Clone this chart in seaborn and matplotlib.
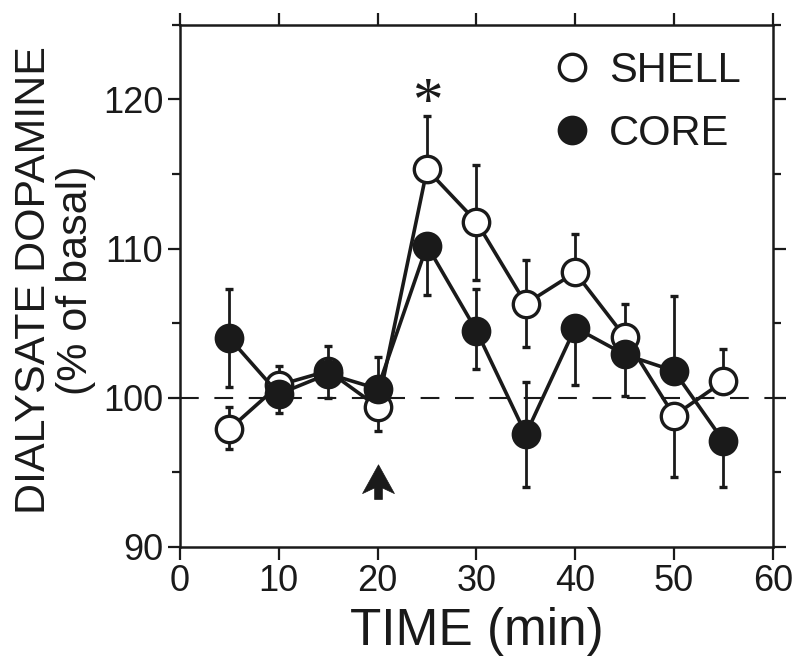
import matplotlib
matplotlib.use('Agg')
import matplotlib.pyplot as plt
from matplotlib.lines import Line2D
from matplotlib.path import Path
from matplotlib.ticker import MultipleLocator
import seaborn as sns

# time after start (min)
time = [5, 10, 15, 20, 25, 30, 35, 40, 45, 50, 55]

# dialysate dopamine, % of basal
shell = [97.9, 100.85, 101.8, 99.4, 115.3, 111.8, 106.3, 108.4, 104.1, 98.8, 101.1]
core = [104.0, 100.25, 101.6, 100.6, 110.2, 104.5, 97.55, 104.7, 102.9, 101.8, 97.1]

# SEM, drawn one side only where the other side is hidden in the original
shell_lo = [1.3, 0, 0, 1.6, 0, 3.9, 2.9, 0, 0, 4.1, 0]
shell_hi = [1.5, 1.25, 1.7, 0, 3.6, 3.8, 2.9, 2.6, 2.2, 0, 2.2]
core_lo = [3.3, 1.25, 1.6, 0, 3.3, 2.6, 3.55, 3.85, 2.8, 0, 3.1]
core_hi = [3.3, 0, 0, 2.1, 0, 2.8, 3.5, 0, 0, 5.0, 0]

# injection time and significant point
inject_time = 20
arrow_level = 93.8
star_time = 25
star_level = 119.7

ink = '#1a1a1a'

sns.set_style("ticks")
plt.rcParams['font.family'] = ['Liberation Sans', 'DejaVu Sans']
plt.rcParams.update({'text.color': ink, 'axes.labelcolor': ink,
                     'xtick.color': ink, 'ytick.color': ink})

fig = plt.figure(figsize=(8, 6.71), dpi=100)
ax = fig.add_axes([0.225, 0.1848, 0.741, 0.7784])

ax.axhline(100, color=ink, lw=1.5, ls=(0, (9, 7.5)), zorder=1)

mk = dict(marker='o', ms=19, mew=2.4, mec=ink, lw=2.6, color=ink)

ax.errorbar(time, shell, yerr=[shell_lo, shell_hi], fmt='none', ecolor=ink,
            elinewidth=2.0, capsize=3, capthick=2.4, zorder=2)
sns.lineplot(x=time, y=shell, ax=ax, mfc='white', zorder=3, errorbar=None, **mk)

ax.errorbar(time, core, yerr=[core_lo, core_hi], fmt='none', ecolor=ink,
            elinewidth=2.0, capsize=3, capthick=2.4, zorder=4)
sns.lineplot(x=time, y=core, ax=ax, mfc=ink, zorder=5, errorbar=None, **mk)

# significance star
ax.text(star_time, star_level, '*', family='Liberation Serif', fontsize=44,
        ha='center', va='center', color=ink)

# injection arrow: notched arrowhead marker shape
arrow_shape = Path([(0, 1), (0.62, -0.12), (0.15, 0.1), (0.15, -0.35),
                    (-0.15, -0.35), (-0.15, 0.1), (-0.62, -0.12), (0, 1)],
                   closed=True)
ax.plot([inject_time], [arrow_level], ls='none', marker=arrow_shape, ms=37,
        mfc=ink, mec=ink, mew=0.5, zorder=6)

ax.set_xlim(0, 60)
ax.set_ylim(90, 125)
ax.xaxis.set_major_locator(MultipleLocator(10))
ax.yaxis.set_major_locator(MultipleLocator(10))
ax.yaxis.set_minor_locator(MultipleLocator(5))
ax.set_yticks([90, 100, 110, 120])
ax.tick_params(which='both', direction='out', top=True, right=True, width=1.6,
               color=ink, labelcolor=ink, labelsize=26, pad=3)
ax.tick_params(which='major', length=9)
ax.tick_params(which='minor', length=6)
for s in ax.spines.values():
    s.set_linewidth(1.8)
    s.set_color(ink)
    s.set_visible(True)

ax.set_xlabel('TIME (min)', fontsize=37, labelpad=6)
ax.set_ylabel('')
fig.text(55 / 800, 1 - 280 / 671, 'DIALYSATE DOPAMINE\n(% of basal)', rotation=90,
         ha='center', va='center', multialignment='center', fontsize=31, linespacing=1.05)

h_shell = Line2D([], [], ls='none', marker='o', ms=19, mew=2.4, mec=ink, mfc='white')
h_core = Line2D([], [], ls='none', marker='o', ms=19, mew=2.4, mec=ink, mfc=ink)
ax.legend([h_shell, h_core], ['SHELL', 'CORE'], loc='upper left',
          bbox_to_anchor=(551 / 800, 1 - 51 / 671), bbox_transform=fig.transFigure,
          frameon=False, fontsize=30, handlelength=1.0, handletextpad=0.4,
          borderpad=0, borderaxespad=0, labelspacing=0.55)

fig.savefig('out.png', dpi=100)
